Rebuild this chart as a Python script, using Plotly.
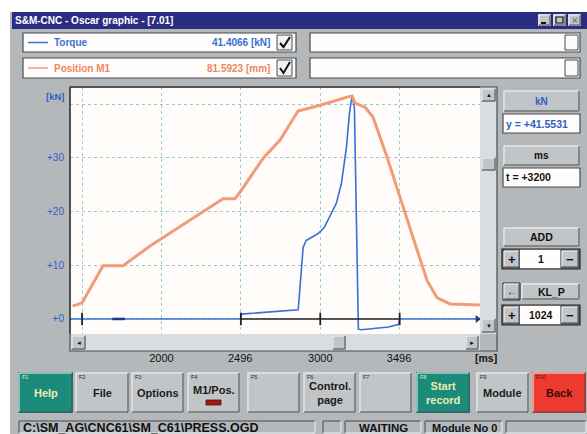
import plotly.graph_objects as go

W, H = 587, 434

# ---------------- data ----------------
torque_time_ms = [1424, 2500, 2502, 2550, 2700, 2861, 2870, 2880, 2892, 2911, 2943, 2987,
                  3025, 3070, 3101, 3133, 3165, 3184, 3200, 3215, 3240, 3259, 3367, 3430,
                  3494, 3500, 4006]
torque_kN = [0, 0, 0.9, 1.0, 1.3, 1.7, 5.0, 9.0, 13.3, 14.6, 15.1, 15.9,
             17.0, 19.6, 21.5, 25.2, 32.0, 38.3, 41.55, 39.4, -1.9, -2.0, -1.7, -1.5,
             -1.0, 0, 0]
position_time_ms = [1440, 1500, 1632, 1758, 1928, 2388, 2463, 2495, 2640, 2747, 2860, 2999,
                    3169, 3200, 3219, 3282, 3332, 3421, 3503, 3584, 3673, 3736, 3817, 4006]
position_mm = [4.7, 5.9, 19.5, 19.5, 26.7, 44.0, 44.0, 46.4, 58.8, 65.5, 76.1, 78.2,
               81.2, 81.6, 79.0, 77.5, 73.9, 59.2, 44.4, 29.7, 14.0, 7.7, 5.5, 5.1]
cursor_time_ms = [2500, 3500]
cursor_level = [0, 0]
cursor_ticks_ms = [1500, 2500, 3000, 3500]
x_tick_vals = [1500, 2000, 2496, 3000, 3496, 4000]
x_tick_text = ['', '2000', '2496', '3000', '3496', '']
y_tick_vals = [0, 10, 20, 30, 40]
y_tick_text = ['+0', '+10', '+20', '+30', '']
legend_names = ['Torque', 'Position M1']
legend_values = ['41.4066 [kN]', '81.5923 [mm]']
cursor_y_text = 'y = +41.5531'
cursor_t_text = 't = +3200'
fkeys = ['F1', 'F2', 'F3', 'F4', 'F5', 'F6', 'F7', 'F8', 'F9', 'F10']
fkey_labels = ['Help', 'File', 'Options', 'M1/Pos.', '', 'Control.<br>page', '',
               'Start<br>record', 'Module', 'Back']

# ---------------- style ----------------
FONT = 'Liberation Sans, Arial, sans-serif'
GRAY = '#b4b8bb'
BTN = '#c2c5c7'
TRACK = '#dadddf'
TEAL = '#1d8b7b'
RED = '#ec3a30'
NAVY = '#2b2d82'
BLUE = '#3a70d4'
ORANGE = '#f39b77'
LIGHT = '#f3f5f5'
DARK = '#474b4f'


def X(px):
    return px / W


def Y(py):
    return 1 - py / H


shapes = []
annotations = []


def rect(x0, y0, x1, y1, fill=None, line=None, lw=1, layer='below'):
    shapes.append(dict(type='rect', xref='paper', yref='paper',
                       x0=X(x0), x1=X(x1), y0=Y(y1), y1=Y(y0),
                       fillcolor=fill if fill else 'rgba(0,0,0,0)',
                       line=dict(color=line if line else 'rgba(0,0,0,0)',
                                 width=lw if line else 0),
                       layer=layer))


def seg(x0, y0, x1, y1, color, lw=1, layer='below'):
    shapes.append(dict(type='line', xref='paper', yref='paper',
                       x0=X(x0), x1=X(x1), y0=Y(y0), y1=Y(y1),
                       line=dict(color=color, width=lw), layer=layer))


def bevel(x0, y0, x1, y1, fill, raised=True, outline=None):
    rect(x0, y0, x1, y1, fill, outline, 1)
    tl = LIGHT if raised else DARK
    br = DARK if raised else LIGHT
    seg(x0 + 1, y0 + 1, x1 - 1, y0 + 1, tl)
    seg(x0 + 1, y0 + 1, x0 + 1, y1 - 1, tl)
    seg(x0 + 1, y1 - 1, x1 - 1, y1 - 1, br)
    seg(x1 - 1, y0 + 1, x1 - 1, y1 - 1, br)


def text(x, y, s, size=10, color='#111', anchor='center', bold=True):
    annotations.append(dict(xref='paper', yref='paper', x=X(x), y=Y(y),
                            text=f'<b>{s}</b>' if bold else s, showarrow=False,
                            xanchor=anchor, yanchor='middle', borderpad=0,
                            font=dict(size=size, color=color, family=FONT)))


# window background & title bar
rect(10, 12, 587, 434, GRAY)
rect(12, 12, 587, 29, NAVY)
text(14, 20.5, 'S&M-CNC - Oscar graphic - [7.01]', 10, '#ffffff', 'left')
for bx in (538, 553, 568):
    bevel(bx, 14, bx + 13, 26, BTN)
seg(541, 23, 546, 23, '#111', 2)
rect(556, 17, 563, 23, None, '#111', 1.2)
text(575, 20, '×', 10, '#7a7e82', 'center')

# legend boxes
for i, (yy0, yy1) in enumerate([(33, 52), (58, 78)]):
    col = BLUE if i == 0 else '#f0855c'
    rect(23, yy0, 296, yy1, '#fffdfb', DARK, 1.2)
    seg(28, (yy0 + yy1) / 2, 48, (yy0 + yy1) / 2, col if i == 0 else ORANGE, 1.5)
    text(53, (yy0 + yy1) / 2, legend_names[i], 10, col, 'left')
    text(271, (yy0 + yy1) / 2, legend_values[i], 10, col, 'right')
    rect(277, yy0 + 2, 292, yy1 - 2, '#f2f2f0', DARK, 1)
    shapes.append(dict(type='path', xref='paper', yref='paper',
                       path=f'M {X(280)} {Y(yy0 + 10)} L {X(283.5)} {Y(yy1 - 5)} L {X(290)} {Y(yy0 + 4)}',
                       line=dict(color='#111', width=2), layer='below'))
    rect(310, yy0, 580, yy1, '#fffdfb', DARK, 1.2)
    rect(565, yy0 + 2, 578, yy1 - 2, '#fbfbfb', DARK, 1)

# plot area
rect(70, 87, 480, 334, '#fffcfa')
rect(70, 87, 497, 351, None, DARK, 1.2, 'above')
seg(70, 87, 480, 87, '#3c3f42', 1.5, 'above')
seg(70, 87, 70, 334, '#3c3f42', 1.5, 'above')

# vertical scrollbar
rect(480, 87, 497, 334, TRACK)
bevel(481, 88, 496, 102, BTN)
text(488.5, 95, '▲', 6, '#111')
bevel(481, 157, 496, 171, BTN)
bevel(481, 318, 496, 333, BTN)
text(488.5, 325.5, '▼', 6, '#111')
# horizontal scrollbar
rect(70, 334, 480, 351, TRACK)
bevel(71, 335, 86, 350, BTN)
text(78.5, 342.5, '◄', 6, '#111')
bevel(332, 335, 346, 350, BTN)
bevel(465, 335, 479, 350, BTN)
text(472, 342.5, '►', 6, '#111')
rect(480, 334, 497, 351, GRAY)

text(55, 96, '[kN]', 9.5, '#2f5fc2')
text(486, 358, '[ms]', 10.5, '#111')

# right panel
bevel(503, 90, 580, 112, BTN)
text(541.5, 101, 'kN', 10, '#2f5fc2')
rect(503, 114, 580, 133, '#fffdfb', DARK, 1.2)
text(505, 123.5, cursor_y_text, 10.5, '#2f5fc2', 'left')
bevel(503, 145, 580, 166, BTN)
text(541.5, 155.5, 'ms', 10, '#111')
rect(503, 168, 580, 187, '#fffdfb', DARK, 1.2)
text(505, 177.5, cursor_t_text, 10.5, '#111', 'left')
bevel(503, 227, 580, 247, BTN)
text(541.5, 237, 'ADD', 10.5, '#111')
for (ry0, ry1, val) in [(250, 268, '1'), (306, 324, '1024')]:
    rect(502, ry0 - 1, 580, ry1 + 1, None, '#222', 1.2)
    bevel(503, ry0, 520, ry1, BTN, outline='#222')
    text(511.5, (ry0 + ry1) / 2, '+', 13, '#111')
    rect(520, ry0, 561, ry1, '#fffdfb')
    text(540.5, (ry0 + ry1) / 2, val, 10.5, '#111')
    bevel(561, ry0, 579, ry1, BTN, outline='#222')
    text(570, (ry0 + ry1) / 2, '−', 13, '#111')
bevel(503, 283, 520, 300, BTN, outline='#222')
text(511.5, 291.5, '←', 10, '#111')
bevel(521, 283, 580, 300, BTN)
text(551, 291.5, 'KL_P', 10.5, '#111')

# function keys
fk_x = [(18, 73), (75, 129), (131, 184), (187, 240), (247, 300), (303, 356),
        (359, 412), (416, 470), (476, 529), (532, 586)]
for i, (fx0, fx1) in enumerate(fk_x):
    fill = TEAL if i in (0, 7) else (RED if i == 9 else BTN)
    tcol = '#e9efb2' if i in (0, 7) else ('#3a0a08' if i == 9 else '#1a1a1a')
    bevel(fx0, 372, fx1, 413, fill)
    text(fx0 + 3, 377, fkeys[i], 5.5, '#e9efb2' if i in (0, 7) else '#222', 'left', False)
    if fkey_labels[i]:
        ty = 390 if i == 3 else 393
        text((fx0 + fx1) / 2, ty, fkey_labels[i], 11, tcol)
    if i == 3:
        rect(206, 400, 221, 405, '#a3161a', '#5a0a0a', 0.8)

# status bar
bevel(18, 420, 316, 434, GRAY, raised=False)
text(22, 427.5, r'C:\SM_AG\CNC61\SM_C61\PRESS.OGD', 12.5, '#111', 'left')
bevel(322, 420, 342, 434, GRAY, raised=False)
bevel(344, 420, 422, 434, GRAY, raised=False)
text(383, 427.5, 'WAITING', 11.5, '#111')
bevel(424, 420, 503, 434, GRAY, raised=False)
text(465, 427.5, 'Module No 0', 11, '#111')
bevel(505, 420, 587, 434, GRAY, raised=False)

# ---------------- traces ----------------
POS_SCALE = 1.966
y_range = [-2.80, 43.18]

fig = go.Figure()
fig.add_trace(go.Scatter(x=position_time_ms, y=position_mm, mode='lines', yaxis='y2',
                         line=dict(color=ORANGE, width=3), name=legend_names[1],
                         hoverinfo='skip'))
fig.add_trace(go.Scatter(x=torque_time_ms, y=torque_kN, mode='lines',
                         line=dict(color=BLUE, width=1.6), name=legend_names[0],
                         hoverinfo='skip'))
fig.add_trace(go.Scatter(x=cursor_time_ms, y=cursor_level, mode='lines',
                         line=dict(color='#222222', width=1.6), hoverinfo='skip'))
fig.add_trace(go.Scatter(x=cursor_ticks_ms, y=[0] * len(cursor_ticks_ms), mode='markers',
                         marker=dict(symbol='line-ns-open', size=9, color='#222222',
                                     line=dict(color='#222222', width=1.8)),
                         hoverinfo='skip'))
fig.add_trace(go.Scatter(x=[1730], y=[0], mode='markers',
                         marker=dict(symbol='line-ew-open', size=9, color='#1f3a80',
                                     line=dict(color='#1f3a80', width=2.5)),
                         hoverinfo='skip'))
fig.add_trace(go.Scatter(x=[3990], y=[0], mode='markers',
                         marker=dict(symbol='triangle-right', size=7, color='#1f3a80'),
                         hoverinfo='skip'))

fig.update_layout(
    width=W, height=H, margin=dict(l=0, r=0, t=0, b=0),
    paper_bgcolor='#ffffff', plot_bgcolor='#fffcfa', showlegend=False,
    shapes=shapes, annotations=annotations,
    xaxis=dict(domain=[X(70), X(480)], range=[1424, 4006],
               tickvals=x_tick_vals, ticktext=x_tick_text, ticks='',
               showgrid=True, gridcolor='#8fcbe2', griddash='dot', gridwidth=1,
               zeroline=False, showline=False, ticklabelstandoff=16,
               tickfont=dict(family=FONT, size=11, color='#111'),
               tickprefix='<b>', ticksuffix='</b>', fixedrange=True),
    yaxis=dict(domain=[Y(334), Y(87)], range=y_range,
               tickvals=y_tick_vals, ticktext=y_tick_text, ticks='',
               showgrid=True, gridcolor='#8fcbe2', griddash='dot', gridwidth=1,
               zeroline=False, showline=False, ticklabelstandoff=5,
               tickfont=dict(family=FONT, size=10, color='#2f5fc2'),
               tickprefix='<b>', ticksuffix='</b>', fixedrange=True),
    yaxis2=dict(overlaying='y', range=[v * POS_SCALE for v in y_range],
                visible=False, fixedrange=True),
)

fig.write_html('out.html', config={'displayModeBar': False},
               post_script="document.body.style.margin='0';document.body.style.padding='0';"
                           "document.body.style.overflow='hidden';")
